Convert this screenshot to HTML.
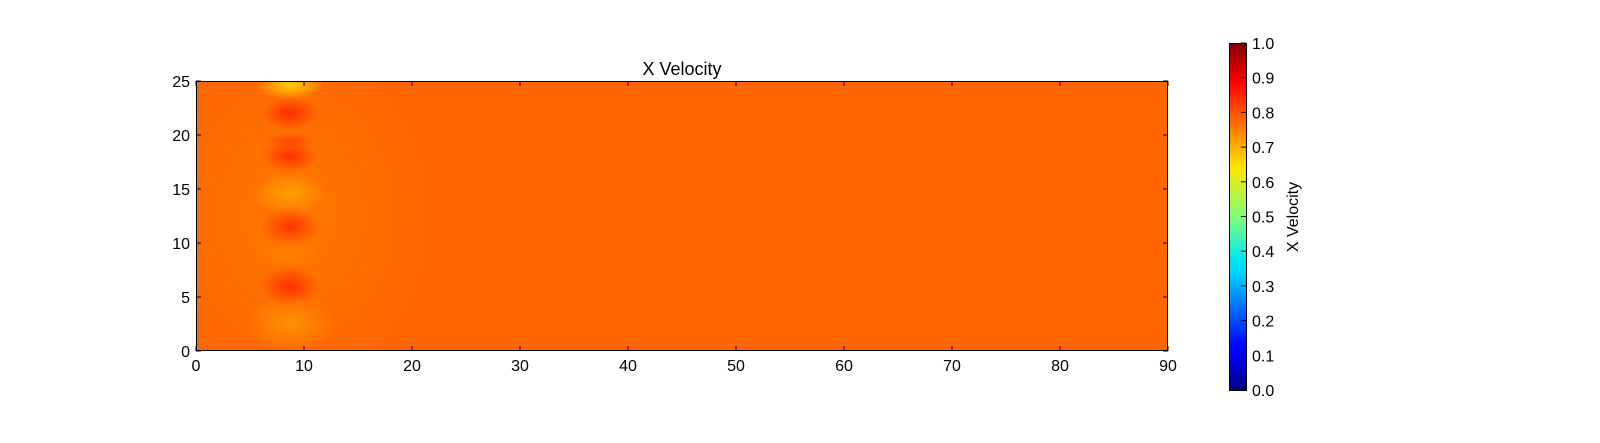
<!DOCTYPE html>
<html><head><meta charset="utf-8">
<style>
body{margin:0;background:#fff;}
svg{display:block;font-family:"Liberation Sans",sans-serif;}
</style></head>
<body>
<svg id="chart" width="1600" height="443">
<defs>
<radialGradient id="halo"><stop offset="0" stop-color="#ff8c00" stop-opacity="0.5"/><stop offset="1" stop-color="#ff8c00" stop-opacity="0"/></radialGradient>
<linearGradient id="jet" x1="0" y1="1" x2="0" y2="0">
<stop offset="0" stop-color="#000080"/><stop offset="0.11" stop-color="#0000ff"/><stop offset="0.125" stop-color="#0000ff"/>
<stop offset="0.34" stop-color="#00d4ff"/><stop offset="0.375" stop-color="#00e5f8"/><stop offset="0.5" stop-color="#7dff7a"/>
<stop offset="0.64" stop-color="#ffe600"/><stop offset="0.66" stop-color="#ffd500"/><stop offset="0.89" stop-color="#ff0000"/><stop offset="1" stop-color="#800000"/>
</linearGradient>
</defs>
<g id="plot"></g>
<text x="682" y="75" text-anchor="middle" font-size="18">X Velocity</text>
<rect x="1229.5" y="43.5" width="17" height="347" fill="url(#jet)" stroke="#000"/>
<g id="cbticks"></g>
<text transform="translate(1298,217) rotate(-90)" text-anchor="middle" font-size="16">X Velocity</text>
</svg>
<script>
const xTicks=[0,10,20,30,40,50,60,70,80,90];
const yTicks=[0,5,10,15,20,25];
const cbTicks=[0.0,0.1,0.2,0.3,0.4,0.5,0.6,0.7,0.8,0.9,1.0];
const blobY=[24.6,22,19.4,18,14.6,11.5,9,6,2.6];
const blobColor=['#ffd000','#ff2a00','#ff4400','#ff2e00','#ffa000','#ff3300','#ff8000','#ff3000','#ff9000'];
const blobRx=[3.2,2.6,2.4,2.6,3.4,2.8,2.8,2.8,4.2];
const blobRy=[1.3,1.5,0.8,1.4,1.9,1.8,1.4,1.9,2.6];
const blobX=8.7;
const ns='http://www.w3.org/2000/svg';
const L=196,R=1168,T=81,B=351;
const sx=v=>L+v*(R-L)/90, sy=v=>B-v*(B-T)/25;
const sxl=v=>v*(R-L)/90, syl=v=>v*(B-T)/25;
const g=document.getElementById('plot');
function mk(t,a,p){const e=document.createElementNS(ns,t);for(const k in a)e.setAttribute(k,a[k]);(p||g).appendChild(e);return e;}
const cp=mk('clipPath',{id:'pc'},document.querySelector('defs'));mk('rect',{x:L,y:T,width:R-L,height:B-T},cp);
const bg=mk('rect',{x:L,y:T,width:R-L,height:B-T,fill:'#ff6600'});


const hg=mk('g',{'clip-path':'url(#pc)'});
const halo=mk('ellipse',{cx:sx(blobX),cy:sy(12.5),rx:sxl(13),ry:syl(16),fill:'url(#halo)'},hg);


blobY.forEach((y,i)=>{
  const gid='bg'+i;
  const rg=mk('radialGradient',{id:gid},document.querySelector('defs'));
  mk('stop',{offset:0,'stop-color':blobColor[i],'stop-opacity':1},rg);
  mk('stop',{offset:1,'stop-color':blobColor[i],'stop-opacity':0},rg);
  const e=mk('ellipse',{cx:sx(blobX),cy:sy(y),rx:sxl(blobRx[i]),ry:syl(blobRy[i]),fill:'url(#'+gid+')'},hg);
  
  
});
const fr=mk('rect',{x:L+0.5,y:T+0.5,width:R-L-1,height:B-T-1,fill:'none',stroke:'#000'});


xTicks.forEach(v=>{
  const x=sx(v);
  mk('line',{x1:x,x2:x,y1:B,y2:B-5,stroke:'#000'});mk('line',{x1:x,x2:x,y1:T,y2:T+5,stroke:'#000'});
  const t=mk('text',{x:x,y:B+20,'text-anchor':'middle','font-size':16});t.textContent=v;
  
  
});
yTicks.forEach(v=>{
  const y=sy(v);
  mk('line',{x1:L,x2:L+5,y1:y,y2:y,stroke:'#000'});mk('line',{x1:R,x2:R-5,y1:y,y2:y,stroke:'#000'});
  const t=mk('text',{x:L-6,y:y+6,'text-anchor':'end','font-size':16});t.textContent=v;
  
  
});
const cg=document.getElementById('cbticks');
cbTicks.forEach(v=>{
  const y=390-v*347;
  mk('line',{x1:1241,x2:1246,y1:y,y2:y,stroke:'#000'},cg);
  const t=mk('text',{x:1252,y:y+6,'font-size':16},cg);t.textContent=v.toFixed(1);
  
  
});
</script>
</body></html>
